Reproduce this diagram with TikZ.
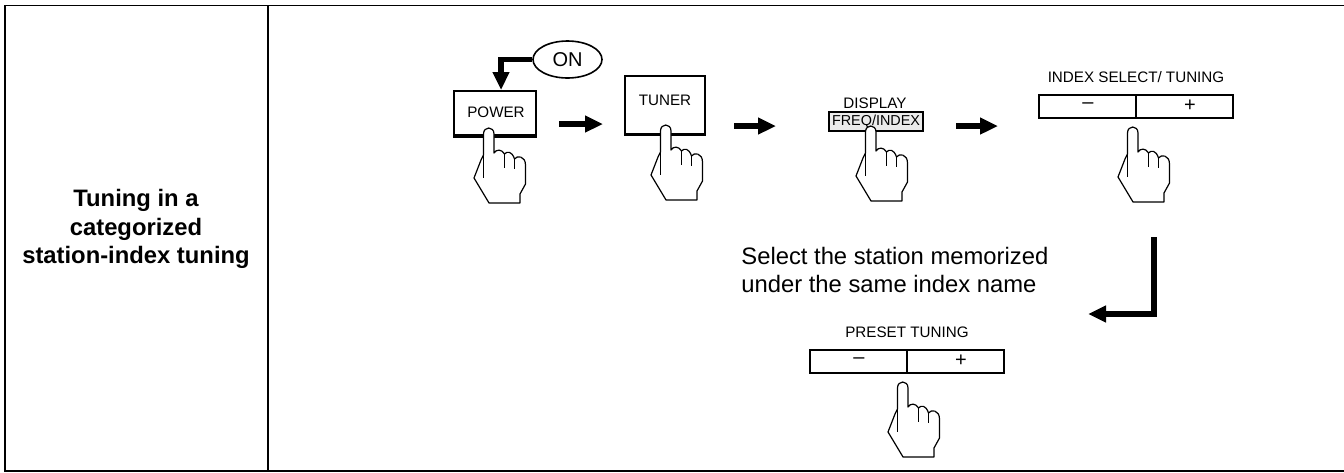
\documentclass[tikz,border=0pt]{standalone}
\usepackage{fontspec}
\setmainfont{Liberation Sans}
\usetikzlibrary{arrows.meta,shapes.geometric}
\tikzset{
    hand/.pic={
        \filldraw[fill=white, line width=0.6pt, line join=round]
            (-5.5,27) -- (-5.5,6) .. controls (-5.5,-2) and (5,-2) .. (5,6) -- (5,25)
            .. controls (7,21) and (13,21) .. (15.5,26)
            .. controls (18,23) and (23,23) .. (25.5,31)
            .. controls (28,27) and (36.5,28) .. (36.5,37) -- (36.5,56) -- (31,66) -- (31,75)
            -- (0,75) -- (-15,50) -- (-8,32) -- cycle;
        \draw[line width=0.6pt] (-5.5,27) -- (-5.5,50);
        \draw[line width=0.6pt] (15.5,26) -- (15.5,40);
        \draw[line width=0.6pt] (25.5,31) -- (25.5,41);
    }
}
\begin{document}
\begin{tikzpicture}[x=0.5pt, y=-0.5pt,
    keybox/.style={draw, fill=white, line width=1pt, inner sep=0pt},
    keytext/.style={inner sep=0pt, font=\fontsize{7.6}{9}\selectfont},
    flowarrow/.style={line width=2.6pt, -{Triangle[length=9pt, width=8pt]}}]
    \useasboundingbox (0,0) rectangle (1344,472);

    % Table outline
    \draw[line width=0.9pt] (1344,5.5) -- (5,5.5) -- (5,471) -- (1344,471);
    \draw[line width=0.9pt] (268,5.5) -- (268,471);
    \node[align=center, inner sep=0pt, font=\fontsize{11.9}{14.4}\bfseries\selectfont] (title) at (136,229)
        {Tuning in a\\categorized\\station-index tuning};

    % Keys
    \node[keybox, minimum width=41pt, minimum height=22pt] (power) at (495,113) {};
    \node[keytext] (powertext) at (496,112) {POWER};
    \node[keybox, minimum width=40pt, minimum height=29pt] (tuner) at (665,104.5) {};
    \node[keytext] (tunertext) at (665,100) {TUNER};
    \draw[line width=1.8pt] (power.south west) -- (power.south east);
    \draw[line width=1.8pt] (tuner.south west) -- (tuner.south east);

    \node[draw, ellipse, line width=0.8pt, inner sep=0pt, minimum width=34.5pt, minimum height=18.5pt,
        font=\fontsize{10}{12}\selectfont] (on) at (567.5,59.5) {ON};
    \draw[flowarrow] (on.west) -| ([xshift=3pt]power.north);

    \node[keytext] (displaytext) at (875,103) {DISPLAY};
    \node[draw, fill=black!8, line width=0.6pt, minimum width=47pt, minimum height=9.5pt, inner sep=0pt,
        font=\fontsize{7.2}{9}\selectfont] (freq) at (876,121.5) {FREQ/INDEX};

    % Long keys with minus and plus
    \foreach \name/\x/\y/\txt in {index/1136/106.5/{INDEX SELECT/ TUNING}, preset/907/361.5/{PRESET TUNING}} {
        \node[keybox, line width=0.8pt, minimum width=97pt, minimum height=11.5pt] (\name) at (\x,\y) {};
        \node[keytext] (\name text) at (\x,\y-29) {\txt};
        \draw[line width=0.8pt] (\name.north) -- (\name.south);
        \node[keytext, font=\fontsize{10}{10}\selectfont] (\name minus) at (\x-48,\y-1) {\textendash};
        \node[keytext, font=\fontsize{10}{10}\selectfont] (\name plus) at (\x+54,\y-1) {+};
    }

    % Hands
    \foreach \x/\y in {489/128, 666/125, 871/126, 1133/127, 903/382} {
        \pic at (\x,\y) {hand};
    }

    % Arrows between the steps
    \coordinate (a1) at (559,124);
    \coordinate (b1) at (603,124);
    \coordinate (a2) at (734,126);
    \coordinate (b2) at (776,126);
    \coordinate (a3) at (956,126);
    \coordinate (b3) at (998,126);
    \foreach \i in {1,2,3} {
        \draw[flowarrow] (a\i) -- (b\i);
    }

    \node[anchor=west, align=left, inner sep=0pt, font=\fontsize{11.9}{14.4}\selectfont] (select) at (741,270)
        {Select the station memorized\\under the same index name};

    \coordinate (bendstart) at (1154,237);
    \coordinate (bendend) at (1088,314);
    \draw[flowarrow, line width=3pt] (bendstart) |- (bendend);
\end{tikzpicture}
\end{document}
